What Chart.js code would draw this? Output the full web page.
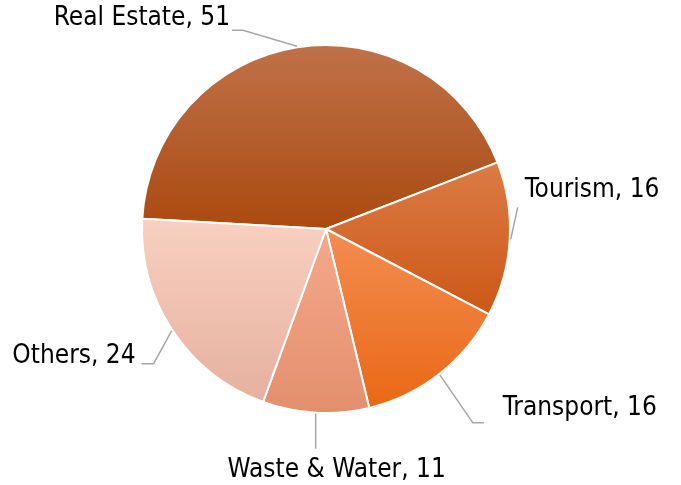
<!DOCTYPE html>
<html><head><meta charset="utf-8">
<script src="https://cdn.jsdelivr.net/npm/chart.js@4/dist/chart.umd.min.js"></script>
<style>html,body{margin:0;padding:0;background:#fff}#wrap{width:681px;height:485px;position:relative}</style>
</head><body><div id="wrap"><canvas id="c"></canvas></div>
<script>
const categories = ['Real Estate', 'Tourism', 'Transport', 'Waste & Water', 'Others'];
const values = [51, 16, 16, 11, 24];
const gradTop = ['#C07149', '#DC7B46', '#F28D51', '#F5A98A', '#F8D0C1'];
const gradBottom = ['#AA4A10', '#CC5816', '#EA6815', '#E38F6E', '#E6B09E'];
// leader layout relative to slice rim midpoint: elbow, tail, text anchor
const labelLayout = [
  {elbow: [-54, -16], tail: [-11, 0], text: [-2, -5], align: 'right'},
  {elbow: [7, -32], tail: [0, 0], text: [7, -10], align: 'left'},
  {elbow: [33, 48], tail: [11, 0], text: [19, -8], align: 'left'},
  {elbow: [0, 35], tail: [0, 0], text: [21, 28], align: 'center'},
  {elbow: [-18, 33], tail: [-12, 0], text: [-6, -1], align: 'right'}
];

function sliceGradient(ctx) {
  const chart = ctx.chart; const i = ctx.dataIndex;
  const el = chart.getDatasetMeta(0).data[i];
  if (!el || !el.outerRadius) return gradTop[i];
  const {x, y, startAngle, endAngle} = el; const r = el.outerRadius;
  const ys = [y, y + r * Math.sin(startAngle), y + r * Math.sin(endAngle)];
  for (let k = -2; k <= 2; k++) {
    const a1 = -Math.PI / 2 + 2 * Math.PI * k, a2 = Math.PI / 2 + 2 * Math.PI * k;
    if (a1 > startAngle && a1 < endAngle) ys.push(y - r);
    if (a2 > startAngle && a2 < endAngle) ys.push(y + r);
  }
  const top = Math.min(...ys), bot = Math.max(...ys);
  const g = chart.ctx.createLinearGradient(0, top, 0, bot);
  g.addColorStop(0, gradTop[i]); g.addColorStop(1, gradBottom[i]);
  return g;
}

const labelPlugin = {
  id: 'outLabels',
  afterDatasetsDraw(chart) {
    const ctx = chart.ctx;
    const arcs = chart.getDatasetMeta(0).data;
    ctx.save();
    ctx.font = '26px "DejaVu Sans Condensed", "DejaVu Sans"';
    ctx.fillStyle = '#000';
    ctx.strokeStyle = '#A6A6A6';
    ctx.lineWidth = 1.5;
    arcs.forEach((arc, i) => {
      const mid = (arc.startAngle + arc.endAngle) / 2;
      const r = arc.outerRadius + 1;
      const ax = arc.x + r * Math.cos(mid), ay = arc.y + r * Math.sin(mid);
      const L = labelLayout[i];
      const ex = ax + L.elbow[0], ey = ay + L.elbow[1];
      const tx = ex + L.tail[0], ty = ey + L.tail[1];
      ctx.beginPath(); ctx.moveTo(ax, ay); ctx.lineTo(ex, ey); ctx.lineTo(tx, ty); ctx.stroke();
      ctx.textAlign = L.align; ctx.textBaseline = 'alphabetic';
      ctx.fillText(categories[i] + ', ' + values[i], tx + L.text[0], ty + L.text[1]);
    });
    ctx.restore();
  }
};

const chart = new Chart(document.getElementById('c'), {
  type: 'pie',
  data: {
    labels: categories,
    datasets: [{
      data: values,
      backgroundColor: sliceGradient,
      borderColor: '#FFFFFF',
      borderWidth: 2
    }]
  },
  options: {
    responsive: true,
    maintainAspectRatio: false,
    animation: false,
    rotation: -86.8,
    layout: {padding: {left: 141, right: 170, top: 44, bottom: 71}},
    plugins: {legend: {display: false}, tooltip: {enabled: false}}
  },
  plugins: [labelPlugin]
});
chart.update();
</script>
</body></html>
